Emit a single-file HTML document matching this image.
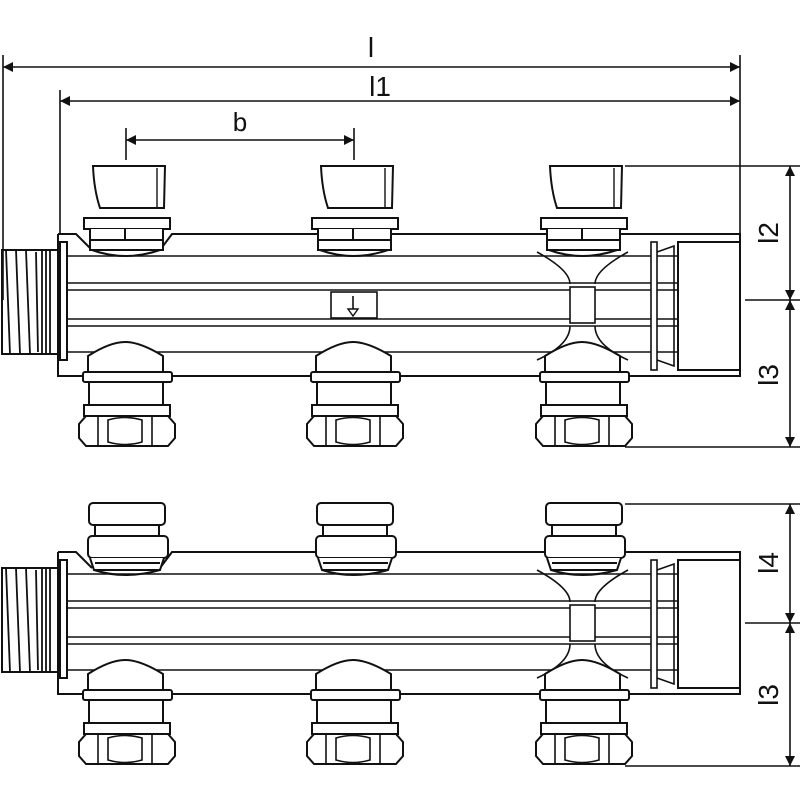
<!DOCTYPE html>
<html><head><style>html,body{margin:0;padding:0;background:#fff}svg{display:block}text{font-family:"Liberation Sans",sans-serif;fill:#111}</style></head>
<body>
<svg width="800" height="800" viewBox="0 0 800 800" xmlns="http://www.w3.org/2000/svg">
<defs>
<marker id="ar" viewBox="0 0 10 10" refX="10" refY="5" markerWidth="14" markerHeight="10" markerUnits="userSpaceOnUse" orient="auto-start-reverse"><path d="M0,0 L10,5 L0,10z" fill="#111"/></marker>
<g id="body" fill="none" stroke="#111" stroke-width="2">
  <!-- thread -->
  <rect x="2" y="250" width="56" height="104" fill="#fff"/>
  <path d="M6,250 L10,354 M16,250 L20,354 M26,250 L30,354 M36,252 L38,352 M42,250 V354 M46,250 V354 M50,250 V354" stroke-width="1.8"/>
  <!-- main body -->
  <rect x="58" y="234" width="682" height="142" fill="#fff" stroke="none"/>
  <path d="M58,234 H76 L92,250 M160,250 L172,234 H740 V376 H58 V234"/>
  <rect x="60" y="242" width="7" height="118" fill="#fff"/>
  <path d="M67,256 H678 M67,283 H678 M67,290 H678 M67,319 H678 M67,326 H678 M67,352 H678" stroke-width="1.6"/>
  <!-- right end -->
  <rect x="651" y="242" width="6" height="128" fill="#fff" stroke-width="1.6"/>
  <path d="M657,252 L674,246 V366 L657,360" stroke-width="1.6"/>
  <rect x="678" y="242" width="62" height="128" fill="#fff"/>
  <!-- cross-section at third outlet -->
  <path d="M537,252 Q570,270 570,284 M628,252 Q595,270 595,284 M537,360 Q570,345 570,326 M628,360 Q595,345 595,326" stroke-width="1.6"/>
  <rect x="570" y="287" width="25" height="36" fill="#fff" stroke-width="1.6"/>
  <!-- bottom fittings -->
  <g id="bf">
    <path d="M88,372 V356 Q110,342 125,342 Q140,342 163,356 V372" fill="#fff"/>
    <rect x="83" y="372" width="89" height="10" rx="2" fill="#fff"/>
    <rect x="89" y="382" width="74" height="23" fill="#fff"/>
    <rect x="84" y="405" width="86" height="11" fill="#fff"/>
    <path d="M86,416 H168 L175,424 V438 L168,446 H86 L79,438 V424 Z" fill="#fff"/>
    <path d="M98,416 V446 M152,416 V446 M108,420 Q125,415 142,420 V442 Q125,447 108,442 Z" stroke-width="1.6"/>
  </g>
  <use href="#bf" x="228"/>
  <use href="#bf" x="457"/>
</g>
<g id="ctop" fill="none" stroke="#111" stroke-width="2">
  <path d="M93,166 H165 L164,208 H100 Q94,190 93,166 Z" fill="#fff"/>
  <path d="M157,168 V207" stroke-width="1.4"/>
  <rect x="84" y="218" width="86" height="11" fill="#fff"/>
  <path d="M90,229 V250 H163 V229 M90,240 H163 M125,229 V240" fill="#fff"/>
  <path d="M92,250 Q125,262 160,250" />
</g>
<g id="cbot" fill="none" stroke="#111" stroke-width="2">
  <rect x="89" y="503" width="76" height="22" rx="4" fill="#fff"/>
  <rect x="95" y="525" width="64" height="11" fill="#fff"/>
  <rect x="88" y="536" width="80" height="22" rx="4" fill="#fff"/>
  <path d="M90,558 L94,570 H160 L164,558 M95,563 H160" fill="#fff"/>
  <path d="M94,570 Q125,580 160,570"/>
</g>
</defs>

<use href="#body"/>
<use href="#ctop"/>
<use href="#ctop" x="228"/>
<use href="#ctop" x="457"/>
<rect x="331" y="292" width="46" height="26" fill="#fff" stroke="#111" stroke-width="1.6"/>
<path d="M353,296 V309" stroke="#111" stroke-width="1.6"/>
<path d="M348,309 H358 L353,316 Z" fill="#fff" stroke="#111" stroke-width="1.4"/>

<use href="#body" y="318"/>
<use href="#cbot"/>
<use href="#cbot" x="228"/>
<use href="#cbot" x="457"/>

<g stroke="#111" stroke-width="1.6" fill="none">
  <path d="M3,55 V300 M740,55 V234 M60,90 V234 M126,128 V160 M354,128 V160"/>
  <path d="M3,67 H740" marker-start="url(#ar)" marker-end="url(#ar)"/>
  <path d="M60,101 H740" marker-start="url(#ar)" marker-end="url(#ar)"/>
  <path d="M126,140 H354" marker-start="url(#ar)" marker-end="url(#ar)"/>
  <path d="M625,166 H800 M745,300 H800 M625,447 H800"/>
  <path d="M790,166 V300" marker-start="url(#ar)" marker-end="url(#ar)"/>
  <path d="M790,300 V447" marker-start="url(#ar)" marker-end="url(#ar)"/>
  <path d="M625,504 H800 M745,623 H800 M625,766 H800"/>
  <path d="M790,504 V623" marker-start="url(#ar)" marker-end="url(#ar)"/>
  <path d="M790,623 V766" marker-start="url(#ar)" marker-end="url(#ar)"/>
</g>
<text x="371" y="57" font-size="28" text-anchor="middle">l</text>
<text x="380" y="96" font-size="28" text-anchor="middle">l1</text>
<text x="240" y="131" font-size="26" text-anchor="middle">b</text>
<text transform="translate(778,233) rotate(-90)" font-size="28" text-anchor="middle">l2</text>
<text transform="translate(778,375) rotate(-90)" font-size="28" text-anchor="middle">l3</text>
<text transform="translate(778,563) rotate(-90)" font-size="28" text-anchor="middle">l4</text>
<text transform="translate(778,695) rotate(-90)" font-size="28" text-anchor="middle">l3</text>
</svg>
</body></html>
